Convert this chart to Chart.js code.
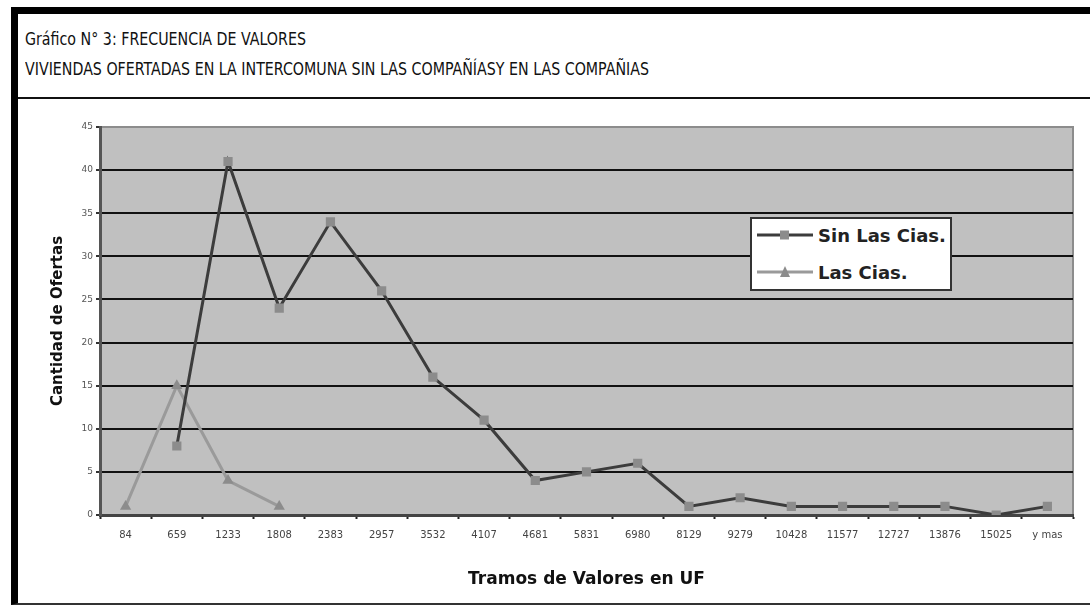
<!DOCTYPE html>
<html>
<head>
<meta charset="utf-8">
<script src="https://cdn.jsdelivr.net/npm/chart.js@4"></script>
<style>
  html, body { margin: 0; padding: 0; background: #fff; }
  body { width: 1090px; height: 606px; position: relative; overflow: hidden; }
  .frame {
    position: absolute; left: 11px; top: 7px; width: 1079px; height: 598px;
    border-left: 7px solid #000; border-top: 7px solid #000; border-bottom: 2px solid #333;
    box-sizing: border-box;
  }
  .head {
    position: absolute; left: 25px; color: #111;
    font-family: 'Liberation Sans Narrow', 'DejaVu Sans Condensed', sans-serif;
    font-stretch: condensed; font-size: 17px; white-space: nowrap;
    transform: scaleX(0.93); transform-origin: left top;
  }
  .sep { position: absolute; left: 18px; right: 0; top: 97px; height: 2px; background: #111; }
  .chart-box { position: absolute; left: 19px; top: 100px; width: 1071px; height: 503px; }
  .legend {
    position: absolute; left: 750px; top: 217px; width: 202px; height: 74px;
    box-sizing: border-box; border: 2px solid #333; background: #fff;
    font-family: 'DejaVu Sans', sans-serif; font-weight: bold; font-size: 18px; color: #222;
  }
  .legend .row { position: absolute; left: 5px; height: 22px; display: flex; align-items: center; }
  .legend svg { margin-right: 5px; }
</style>
</head>
<body>
<div class="frame"></div>
<div class="head" style="top:29px">Gráfico N° 3: FRECUENCIA DE VALORES</div>
<div class="head" style="top:59px">VIVIENDAS OFERTADAS EN LA INTERCOMUNA SIN LAS COMPAÑÍASY EN LAS COMPAÑIAS</div>
<div class="sep"></div>
<div class="chart-box"><canvas id="freqChart" width="1071" height="503"></canvas></div>
<div class="legend">
  <div class="row" style="top:5px">
    <svg width="56" height="12"><line x1="0" y1="6" x2="56" y2="6" stroke="#3c3c3c" stroke-width="3"/><rect x="23" y="1.5" width="9" height="9" fill="#8c8c8c"/></svg>Sin Las Cias.
  </div>
  <div class="row" style="top:42px">
    <svg width="56" height="12"><line x1="0" y1="6" x2="56" y2="6" stroke="#9a9a9a" stroke-width="3"/><polygon points="28,0 33,11 23,11" fill="#8c8c8c"/></svg>Las Cias.
  </div>
</div>
<script>
const categories = ['84', '659', '1233', '1808', '2383', '2957', '3532', '4107', '4681', '5831',
  '6980', '8129', '9279', '10428', '11577', '12727', '13876', '15025', 'y mas'];
const sinLasCias = [null, 8, 41, 24, 34, 26, 16, 11, 4, 5, 6, 1, 2, 1, 1, 1, 1, 0, 1];
const lasCias = [1, 15, 4, 1, null, null, null, null, null, null, null, null, null, null, null, null, null, null, null];
const yMax = 45;
const yStep = 5;

// gray plot area like the old spreadsheet chart
const plotBackground = {
  id: 'plotBackground',
  beforeDraw(chart) {
    const { ctx, chartArea: a } = chart;
    ctx.save();
    ctx.fillStyle = '#c0c0c0';
    ctx.fillRect(a.left, a.top, a.right - a.left, a.bottom - a.top);
    ctx.strokeStyle = '#8c8c8c';
    ctx.lineWidth = 2;
    ctx.beginPath();
    ctx.moveTo(a.left, a.top);
    ctx.lineTo(a.right, a.top);
    ctx.lineTo(a.right, a.bottom);
    ctx.stroke();
    ctx.restore();
  }
};

new Chart(document.getElementById('freqChart').getContext('2d'), {
  type: 'line',
  data: {
    labels: categories,
    datasets: [{
      label: 'Sin Las Cias.',
      data: sinLasCias,
      borderColor: '#3c3c3c',
      borderWidth: 3,
      pointStyle: 'rect',
      pointRadius: 6.5,
      pointBackgroundColor: '#8c8c8c',
      pointBorderColor: '#8c8c8c',
      pointBorderWidth: 0,
      tension: 0
    }, {
      label: 'Las Cias.',
      data: lasCias,
      borderColor: '#9a9a9a',
      borderWidth: 3,
      pointStyle: 'triangle',
      pointRadius: 6.5,
      pointBackgroundColor: '#8c8c8c',
      pointBorderColor: '#8c8c8c',
      pointBorderWidth: 0,
      tension: 0
    }]
  },
  options: {
    responsive: false,
    animation: false,
    layout: { padding: { top: 27, right: 17, left: 0, bottom: 0 } },
    plugins: {
      legend: { display: false },
      tooltip: { enabled: false }
    },
    scales: {
      x: {
        offset: true,
        grid: {
          offset: true,
          drawOnChartArea: false,
          tickLength: 4,
          tickColor: '#222',
          tickWidth: 2
        },
        border: { color: '#444', width: 3 },
        ticks: {
          autoSkip: false,
          maxRotation: 0,
          padding: 10,
          color: '#444',
          font: { family: 'DejaVu Sans', size: 10 }
        },
        title: {
          display: true,
          text: 'Tramos de Valores en UF',
          color: '#111',
          font: { family: 'DejaVu Sans', size: 17, weight: 'bold' },
          padding: { top: 0, bottom: 13 }
        },
        afterFit(scale) { scale.height = 88; }
      },
      y: {
        min: 0,
        max: yMax,
        ticks: {
          stepSize: yStep,
          padding: 3,
          color: '#555',
          font: { family: 'DejaVu Sans', size: 9 }
        },
        grid: {
          color: (ctx) => (ctx.tick && ctx.tick.value === yMax) || (ctx.tick && ctx.tick.value === 0) ? 'rgba(0,0,0,0)' : '#111',
          lineWidth: 2,
          tickLength: 4,
          tickColor: '#333',
          tickWidth: 2
        },
        border: { color: '#555', width: 3 },
        title: {
          display: true,
          text: 'Cantidad de Ofertas',
          color: '#111',
          font: { family: 'DejaVu Sans', size: 15, weight: 'bold' },
          padding: { top: 30, bottom: 0 }
        },
        afterFit(scale) { scale.width = 81; }
      }
    }
  },
  plugins: [plotBackground]
});
</script>
</body>
</html>
